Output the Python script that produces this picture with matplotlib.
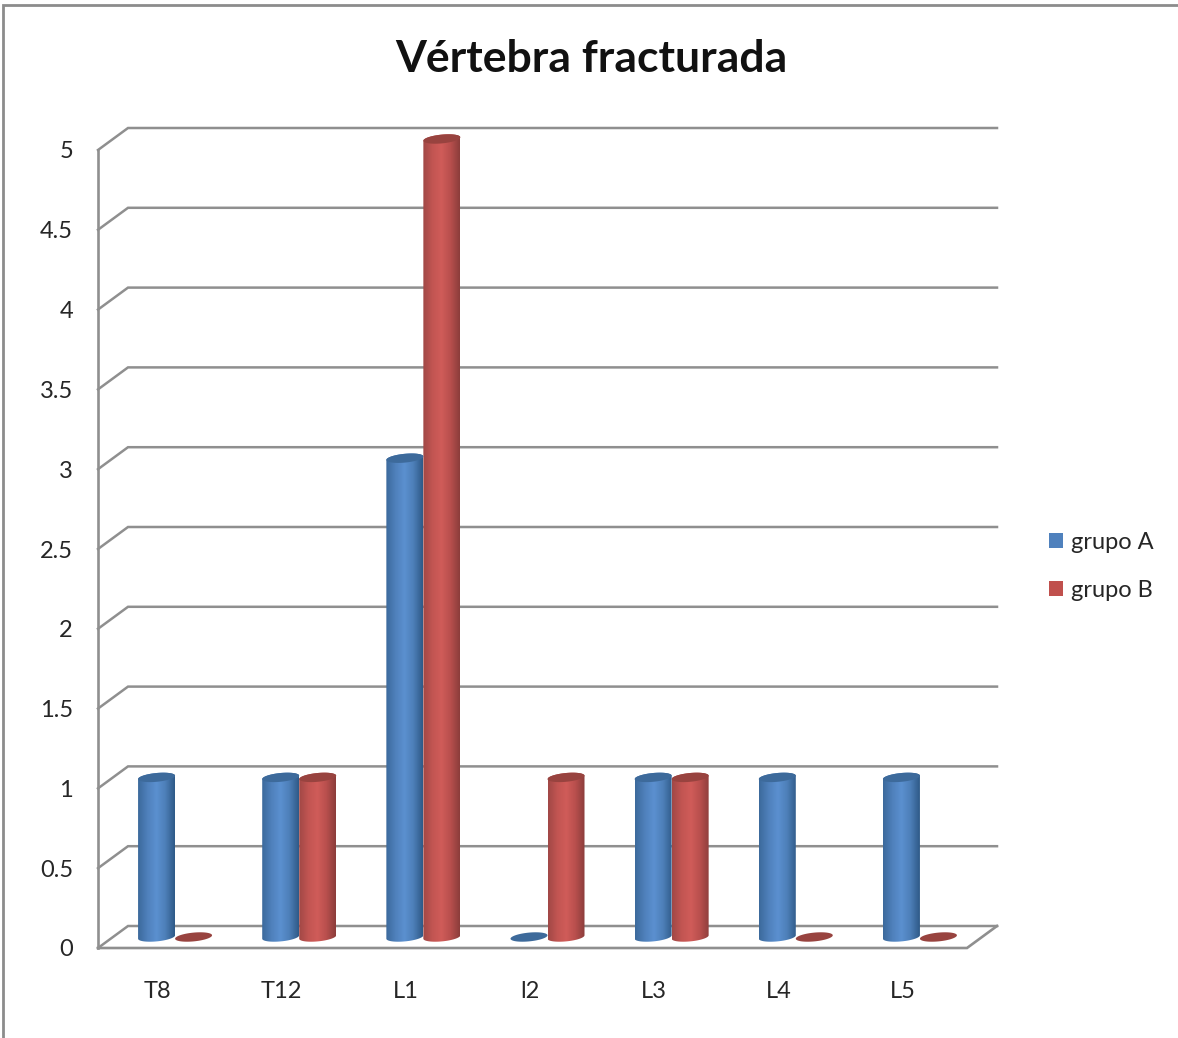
import numpy as np
import matplotlib
matplotlib.use('Agg')
import matplotlib.pyplot as plt
from matplotlib.colors import LinearSegmentedColormap
from matplotlib.lines import Line2D
from matplotlib.patches import Polygon, Patch

plt.rcParams['font.family'] = ['Lato', 'DejaVu Sans']

# datos
vertebras = ['T8', 'T12', 'L1', 'l2', 'L3', 'L4', 'L5']
grupo_a = [1, 1, 3, 0, 1, 1, 1]
grupo_b = [0, 1, 5, 1, 1, 0, 0]
marcas_y = [0, 0.5, 1, 1.5, 2, 2.5, 3, 3.5, 4, 4.5, 5]
etiquetas_y = ['0', '0.5', '1', '1.5', '2', '2.5', '3', '3.5', '4', '4.5', '5']

W, H = 1178, 1038
GRIS = '#8f8f8f'
TEXTO = '#262626'

fig = plt.figure(figsize=(W / 100, H / 100), dpi=100)
ax = fig.add_axes([98 / W, 1 - 948 / H, 869 / W, 798 / H])
ax.set_xlim(0, len(vertebras))
ax.set_ylim(0, 5)
ax.patch.set_alpha(0)
for s in ax.spines.values():
    s.set_visible(False)

# profundidad de la caja 3D y tamano del cilindro, en unidades de los ejes
px_x = len(vertebras) / 869
px_y = 5 / 798
DX, DY = 30 * px_x, 22 * px_y
ANCHO = 37 * px_x
ELIPSE = 4.4 * px_y
GIRO = 1.7 * px_y

# paredes y lineas de division
for v in marcas_y:
    ax.plot([0, DX, len(vertebras) + DX], [v, v + DY, v + DY], color=GRIS, lw=1.8,
            clip_on=False, solid_joinstyle='miter', zorder=1)
ax.plot([0, 0], [0, 5], color=GRIS, lw=1.9, clip_on=False, zorder=1)
ax.plot([0, len(vertebras), len(vertebras) + DX], [0, 0, DY], color=GRIS, lw=1.9,
        clip_on=False, solid_joinstyle='miter', zorder=1)

azul = LinearSegmentedColormap.from_list('azul', ['#3c6a9c', '#4f80bb', '#5b90d0', '#4d7fb8', '#2f5a88'])
rojo = LinearSegmentedColormap.from_list('rojo', ['#a14846', '#c25552', '#d05c59', '#b84f4d', '#8c3d3b'])
gradiente = np.linspace(0, 1, 64).reshape(1, -1)


def borde(cx, y, t):
    return np.column_stack([cx + ANCHO / 2 * np.cos(t),
                            y + ELIPSE * np.sin(t) + GIRO * np.cos(t)])


def cilindro(cx, valor, mapa, tapa, z):
    base = DY / 2
    if valor > 0:
        abajo = borde(cx, base, np.linspace(np.pi, 2 * np.pi, 40))
        arriba = borde(cx, base + valor, np.linspace(0, np.pi, 40))
        cuerpo = Polygon(np.vstack([abajo, arriba]), closed=True, fc='none', ec='none',
                         clip_on=False, transform=ax.transData)
        ax.add_patch(cuerpo)
        im = ax.imshow(gradiente, cmap=mapa, aspect='auto', interpolation='bilinear',
                       extent=[cx - ANCHO / 2, cx + ANCHO / 2, base - 2 * ELIPSE, base + valor + 2 * ELIPSE],
                       zorder=z)
        # el cilindro de valor 5 sobresale del area de ejes por la profundidad
        im.set_clip_box(fig.bbox)
        im.set_clip_path(cuerpo)
    ax.add_patch(Polygon(borde(cx, base + valor, np.linspace(0, 2 * np.pi, 60)), closed=True,
                         fc=tapa, ec='none', clip_on=False, zorder=z + 0.5))


for i in range(len(vertebras)):
    centro = i + 0.5 + DX / 2
    cilindro(centro - ANCHO / 2, grupo_a[i], azul, '#3d6a9b', 3 + i)
    cilindro(centro + ANCHO / 2, grupo_b[i], rojo, '#98433f', 3.2 + i)

ax.set_xlim(0, len(vertebras))
ax.set_ylim(0, 5)

ax.set_xticks(np.arange(len(vertebras)) + 0.5 - 2.5 * px_x)
ax.set_xticklabels(vertebras)
ax.set_yticks(marcas_y)
ax.set_yticklabels(etiquetas_y)
ax.tick_params(axis='x', length=0, pad=24, labelsize=17, labelcolor=TEXTO)
ax.tick_params(axis='y', length=0, pad=18, labelsize=17, labelcolor=TEXTO)
for etiqueta in ax.get_yticklabels():
    etiqueta.set_y(etiqueta.get_position()[1])

fig.text(591 / W, 1 - 59 / H, 'Vértebra fracturada', ha='center', va='center',
         fontsize=32, fontweight='bold', color='#111111')

leyenda = [Patch(fc='#4f81bd', ec='none', label='grupo A'), Patch(fc='#c0504d', ec='none', label='grupo B')]
fig.legend(handles=leyenda, loc='center left', bbox_to_anchor=(1049 / W, 1 - 566.5 / H), frameon=False,
           fontsize=17, labelcolor=TEXTO, handlelength=0.6, handleheight=0.6, handletextpad=0.32,
           labelspacing=1.17, borderpad=0, borderaxespad=0)

# marco exterior del grafico
fig.add_artist(Line2D([3 / W, 3 / W, 1], [0, 1 - 5 / H, 1 - 5 / H], color='#8c8c8c', lw=2,
                      solid_joinstyle='miter'))

fig.savefig('out.png', dpi=100)
